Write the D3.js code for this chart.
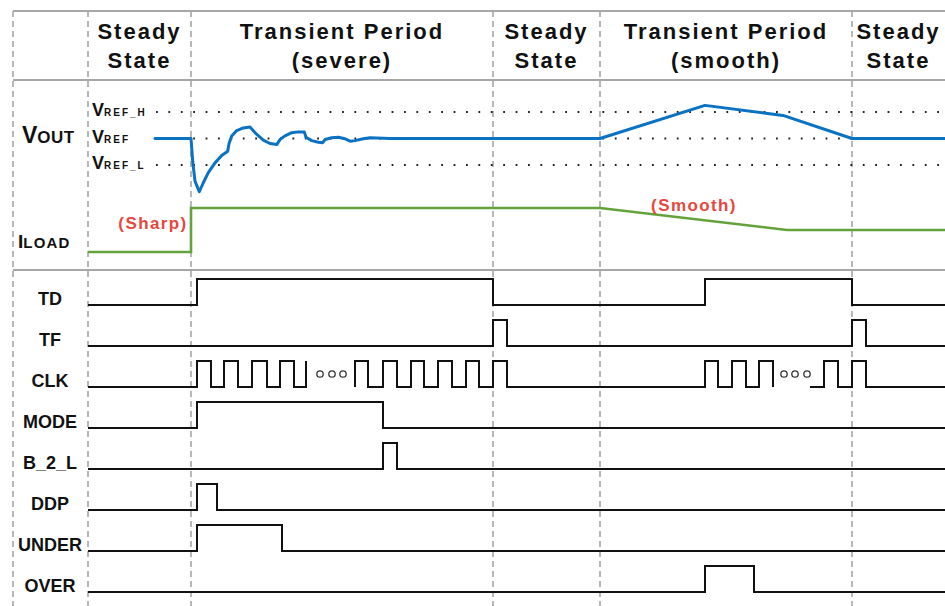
<!DOCTYPE html>
<html>
<head>
<meta charset="utf-8">
<script src="https://cdn.jsdelivr.net/npm/d3@7"></script>
<style>
  html, body { margin: 0; padding: 0; background: #fff; }
  svg { display: block; }
  text { font-family: "Liberation Sans", Arial, sans-serif; font-weight: bold; fill: #111; }
</style>
</head>
<body>
<svg id="chart" width="945" height="606"></svg>
<script>
// Operating phases (time units) and their header labels
const phaseEdges = [0, 103, 405, 512, 764, 857];
const phaseLabels = [
  ["Steady", "State"],
  ["Transient Period", "(severe)"],
  ["Steady", "State"],
  ["Transient Period", "(smooth)"],
  ["Steady", "State"]
];

// Output voltage, in units of the regulation window (VREF = 0, VREF_H = +1, VREF_L = -1)
const voutSamples = [
  [67, 0], [103, 0], [104.7, -0.86], [107, -1.61], [111.3, -2.01], [115.3, -1.67],
  [120.3, -1.29], [127, -0.92], [133.7, -0.64], [139.7, -0.48], [141, -0.2],
  [143.7, 0.09], [148.7, 0.30], [155.3, 0.40], [162, 0.43], [168, 0.18],
  [175.3, -0.06], [182, -0.19], [188.7, -0.23], [192, -0.04], [197, 0.10],
  [203.7, 0.22], [210.3, 0.25], [216.3, 0.25], [218, 0.05], [223.7, -0.08],
  [230.3, -0.14], [234.7, -0.16], [237, -0.04], [243.7, 0.03], [250.3, 0.05],
  [257, -0.01], [262, -0.10], [267, -0.08], [275.3, -0.01], [282, 0.03],
  [302, 0], [512, 0], [617, 1.25], [695, 0.87], [764, 0], [857, 0]
];
const refLevels = [
  { name: "H", value: 1 },
  { name: "", value: 0 },
  { name: "L", value: -1 }
];

// Load current, normalised (0 = light load, 1 = heavy load)
const iloadSamples = [[0, 0], [103, 0], [103, 1], [512, 1], [699, 0.5], [857, 0.5]];

// Digital control signals: [time, level] pairs, held until the next pair
const signalNames = ["TD", "TF", "CLK", "MODE", "B_2_L", "DDP", "UNDER", "OVER"];
const tdWave    = [[0, 0], [109, 1], [405, 0], [617, 1], [764, 0], [857, 0]];
const tfWave    = [[0, 0], [405, 1], [419, 0], [764, 1], [778, 0], [857, 0]];
const modeWave  = [[0, 0], [109, 1], [295, 0], [857, 0]];
const b2lWave   = [[0, 0], [295, 1], [309, 0], [857, 0]];
const ddpWave   = [[0, 0], [109, 1], [129, 0], [857, 0]];
const underWave = [[0, 0], [109, 1], [194, 0], [857, 0]];
const overWave  = [[0, 0], [617, 1], [666, 0], [857, 0]];
// The clock is drawn in pieces, with ellipses where cycles are omitted
const clkPieces = [
  [[0, 0], [109, 1], [123, 0], [136, 1], [150, 0], [164, 1], [179, 0], [192, 1], [206, 0], [218, 1]],
  [[267, 0], [267, 1], [280, 0], [295, 1], [309, 0], [323, 1], [336, 0], [350, 1], [364, 0],
   [378, 1], [391, 0], [405, 1], [419, 0], [617, 1], [630, 0], [644, 1], [658, 0], [671, 1], [685, 0]],
  [[722, 0], [736, 1], [750, 0], [764, 1], [778, 0], [857, 0]]
];
const clkEllipses = [232, 244, 255, 696, 707, 719];

const waves = {
  TD: [tdWave], TF: [tfWave], CLK: clkPieces, MODE: [modeWave],
  B_2_L: [b2lWave], DDP: [ddpWave], UNDER: [underWave], OVER: [overWave]
};

const svg = d3.select("#chart");
const W = 945, H = 606;
svg.append("rect").attr("width", W).attr("height", H).attr("fill", "#fff");

const x = d3.scaleLinear().domain([-88, 857]).range([0, W]);
const yV = d3.scaleLinear().domain([-1, 1]).range([165, 112]);
const yI = d3.scaleLinear().domain([0, 1]).range([252, 208]);
const row = d3.scalePoint().domain(signalNames).range([305, 592]);
const pulseH = 26;

const gridColor = "#a6a6a6";

// Table frame: horizontal rules
const ruleY = [11, 80, 270];
svg.append("g").selectAll("line").data(ruleY).join("line")
  .attr("x1", 13).attr("x2", W).attr("y1", d => d).attr("y2", d => d)
  .attr("stroke", gridColor).attr("stroke-width", 2);

// Phase separators (dashed) including the left border
const sepTimes = [-75].concat(phaseEdges.slice(0, 5));
svg.append("g").selectAll("line").data(sepTimes).join("line")
  .attr("x1", d => x(d)).attr("x2", d => x(d))
  .attr("y1", 11).attr("y2", H)
  .attr("stroke", gridColor).attr("stroke-width", 1.6)
  .attr("stroke-dasharray", "6 4");

// Phase headers
const header = svg.append("g");
phaseLabels.forEach((lines, i) => {
  const cx = (x(phaseEdges[i]) + x(phaseEdges[i + 1])) / 2;
  lines.forEach((s, j) => {
    header.append("text")
      .attr("x", cx).attr("y", 39 + j * 29)
      .attr("text-anchor", "middle")
      .attr("font-size", 22).attr("letter-spacing", 2)
      .text(s);
  });
});

// Reference levels (dotted)
svg.append("g").selectAll("line").data(refLevels).join("line")
  .attr("x1", 155).attr("x2", W)
  .attr("y1", d => yV(d.value)).attr("y2", d => yV(d.value))
  .attr("stroke", "#222").attr("stroke-width", 2)
  .attr("stroke-dasharray", "1.8 10.6").attr("stroke-dashoffset", -1);

const refLab = svg.append("g");
refLevels.forEach(d => {
  const t = refLab.append("text").attr("x", 92).attr("y", yV(d.value) + 4);
  t.append("tspan").attr("font-size", 18).text("V");
  t.append("tspan").attr("font-size", 10).attr("letter-spacing", 2)
    .text("REF" + (d.name ? "_" + d.name : ""));
});

// Quantity labels
const vLab = svg.append("text").attr("x", 22).attr("y", 143);
vLab.append("tspan").attr("font-size", 23).text("V");
vLab.append("tspan").attr("font-size", 17).attr("letter-spacing", 0.4).text("OUT");
const iLab = svg.append("text").attr("x", 18).attr("y", 248);
iLab.append("tspan").attr("font-size", 19).text("I");
iLab.append("tspan").attr("font-size", 15).attr("letter-spacing", 1.2).text("LOAD");

// Output voltage waveform
svg.append("path").datum(voutSamples)
  .attr("d", d3.line().x(d => x(d[0])).y(d => yV(d[1])))
  .attr("fill", "none").attr("stroke", "#0a72c2").attr("stroke-width", 3)
  .attr("stroke-linejoin", "round").attr("stroke-linecap", "round");

// Load current waveform
svg.append("path").datum(iloadSamples)
  .attr("d", d3.line().x(d => x(d[0])).y(d => yI(d[1])))
  .attr("fill", "none").attr("stroke", "#64a23c").attr("stroke-width", 2.6);

// Load step annotations
const noteColor = "#e8473d";
svg.append("text").attr("x", 153).attr("y", 229).attr("text-anchor", "middle")
  .attr("font-size", 17).attr("letter-spacing", 1.4).style("fill", noteColor).text("(Sharp)");
svg.append("text").attr("x", 694).attr("y", 211).attr("text-anchor", "middle")
  .attr("font-size", 17).attr("letter-spacing", 1.4).style("fill", noteColor).text("(Smooth)");

// Digital signal rows
const digital = svg.append("g");
signalNames.forEach(name => {
  const base = row(name);
  digital.append("text")
    .attr("x", 50).attr("y", base).attr("text-anchor", "middle")
    .attr("font-size", 18).text(name);
  const line = d3.line().curve(d3.curveStepAfter)
    .x(d => x(d[0])).y(d => base - d[1] * pulseH);
  waves[name].forEach(piece => {
    digital.append("path").datum(piece).attr("d", line)
      .attr("fill", "none").attr("stroke", "#111").attr("stroke-width", 2);
  });
});

// Omitted clock cycles
digital.append("g").selectAll("circle").data(clkEllipses).join("circle")
  .attr("cx", d => x(d)).attr("cy", row("CLK") - 13).attr("r", 3.2)
  .attr("fill", "none").attr("stroke", "#333").attr("stroke-width", 1.3);
</script>
</body>
</html>
